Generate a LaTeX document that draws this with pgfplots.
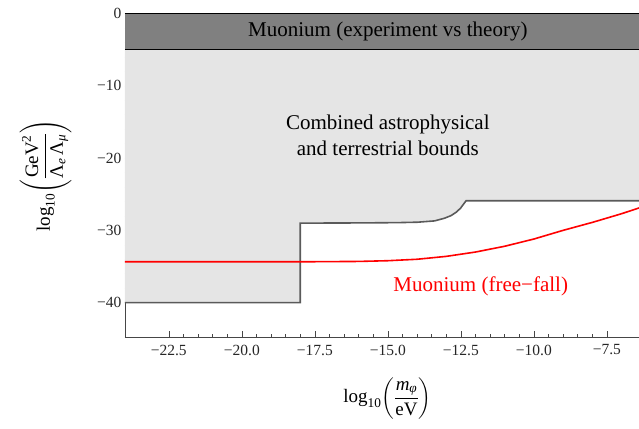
\documentclass[border=0pt]{standalone}
\usepackage{amsmath}
\usepackage{fontspec}
\setmainfont{Liberation Serif}
\usepackage{pgfplots}
\pgfplotsset{compat=1.18}
\definecolor{bandgray}{RGB}{128,128,128}
\definecolor{fillgray}{RGB}{229,229,229}
\definecolor{edgegray}{RGB}{90,90,90}
\definecolor{framegray}{RGB}{70,70,70}
\newcommand{\lbl}{\fontsize{19}{22}\selectfont}
\begin{document}
\begin{tikzpicture}
\begin{axis}[
  scale only axis, width=514pt, height=323.7pt,
  xmin=-24, xmax=-6.4, ymin=-44.8, ymax=0,
  axis x line*=bottom, axis y line*=left,
  axis line style={framegray, line width=0.8pt},
  tick align=inside, tick style={framegray, line width=0.6pt},
  major tick length=6pt, minor tick length=3.5pt,
  xtick={-22.5,-20,-17.5,-15,-12.5,-10,-7.5},
  xticklabels={−22.5,−20.0,−17.5,−15.0,−12.5,−10.0,−7.5},
  ytick={-40,-30,-20,-10,0},
  yticklabels={−40,−30,−20,−10,0},
  minor x tick num=4, minor y tick num=4,
  ticklabel style={font=\fontsize{15.5}{18}\selectfont, text=black!85},
  xticklabel style={yshift=-4pt},
  xlabel={\lbl$\displaystyle\textrm{log}_{\textrm{10}}\!\left(\frac{\displaystyle\textit{m}_{\textit{φ}}\rule[-3pt]{0pt}{0pt}}{\displaystyle\rule{0pt}{15pt}\textrm{eV}}\right)$},
  ylabel={\lbl$\displaystyle\textrm{log}_{\textrm{10}}\!\left(\frac{\displaystyle\textrm{GeV}^{\textrm{2}}\rule[-3pt]{0pt}{0pt}}{\displaystyle\rule{0pt}{15pt}\textrm{Λ}_{\textit{e}}\,\textrm{Λ}_{\textit{μ}}}\right)$},
  xlabel style={at={(axis description cs:0.5107,-0.188)}, anchor=center},
  ylabel style={at={(axis description cs:-0.1547,0.5)}, anchor=center},
  clip=true,
]
% combined bounds region
\addplot[fill=fillgray, draw=none] coordinates {
  (-24,-5) (-24,-40) (-18,-40) (-18,-29) (-16,-28.97) (-15,-28.94)
  (-14.55,-28.92) (-13.98,-28.87) (-13.40,-28.69) (-13.06,-28.32)
  (-12.83,-27.95) (-12.66,-27.49) (-12.51,-26.93) (-12.40,-26.33)
  (-12.32,-25.9) (-6.4,-25.9) (-6.4,-5)} -- cycle;
\addplot[edgegray, line width=1.6pt] coordinates {
  (-24,-40) (-18,-40) (-18,-29) (-16,-28.97) (-15,-28.94)
  (-14.55,-28.92) (-13.98,-28.87) (-13.40,-28.69) (-13.06,-28.32)
  (-12.83,-27.95) (-12.66,-27.49) (-12.51,-26.93) (-12.40,-26.33)
  (-12.32,-25.9) (-6.4,-25.9)};
% muonium experiment vs theory band
\addplot[fill=bandgray, draw=none] coordinates {(-24,0) (-6.4,0) (-6.4,-5) (-24,-5)} -- cycle;
\addplot[black, line width=1pt] coordinates {(-24,-5) (-6.4,-5)};
\addplot[black, line width=1pt] coordinates {(-24,0) (-6.4,0)};
% muonium free-fall
\addplot[red, line width=1.6pt] coordinates {
  (-24,-34.35) (-18,-34.35) (-16,-34.3) (-15,-34.2) (-14,-34.0)
  (-13,-33.6) (-12,-33.0) (-11,-32.2) (-10,-31.2) (-9,-30.0)
  (-8,-28.9) (-7,-27.7) (-6.4,-26.9)};
\node[font=\fontsize{21}{24}\selectfont] at (axis cs:-15,-2.5) {Muonium (experiment vs theory)};
\node[font=\fontsize{21}{26}\selectfont, align=center] at (axis cs:-15,-16.8) {Combined astrophysical\\and terrestrial bounds};
\node[font=\fontsize{21}{24}\selectfont, text=red] at (axis cs:-11.82,-37.68) {Muonium (free−fall)};
\coordinate (sw) at (rel axis cs:0,0);
\coordinate (ne) at (rel axis cs:1,1);
\end{axis}
\pgfresetboundingbox
\useasboundingbox ([xshift=-125pt,yshift=-90.7pt]sw) rectangle ([yshift=13.6pt]ne);
\end{tikzpicture}
\end{document}
